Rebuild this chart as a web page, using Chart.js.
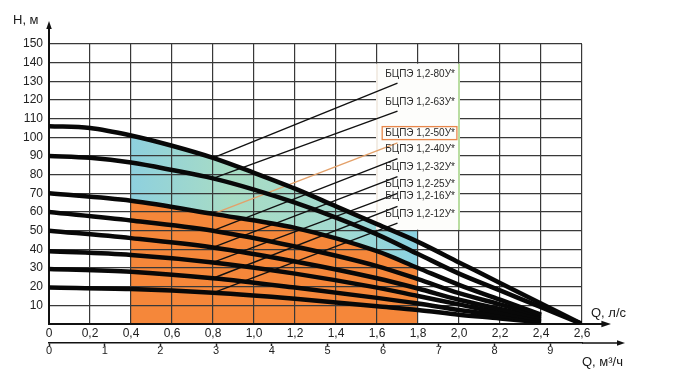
<!DOCTYPE html>
<html lang="ru">
<head>
<meta charset="utf-8">
<title>БЦПЭ 1,2 — напорные характеристики</title>
<script src="https://cdn.jsdelivr.net/npm/chart.js@4.4.1/dist/chart.umd.min.js"></script>
<style>
  html, body { margin: 0; padding: 0; background: #fff; }
  #wrap { width: 700px; height: 378px; }
</style>
</head>
<body>
<div id="wrap"><canvas id="pumpChart" width="700" height="378"></canvas></div>
<script>
// Подача, л/с
const Q_LONG  = [0, 0.2, 0.4, 0.6, 0.8, 1.0, 1.2, 1.4, 1.6, 1.8, 2.0, 2.2, 2.4, 2.6];
const Q_SHORT = [0, 0.4, 0.8, 1.2, 1.6, 1.8, 2.0, 2.2, 2.4];

// Напор, м
const H_80 = [106, 105, 101, 95.5, 89, 81, 72.5, 63, 53.5, 44, 33, 22, 11, 0];
const H_63 = [90, 89, 86.5, 82.5, 78, 72, 65, 57, 48, 37.5, 27, 18, 9, 0];
const H_50 = [70, 66, 59, 51.5, 39, 30, 21, 13, 5];
const H_40 = [60, 55.5, 50, 41.5, 31, 24, 16.5, 10.5, 4.5];
const H_32 = [50, 46, 41, 33.5, 24.5, 19, 13, 8, 3.5];
const H_25 = [39, 37, 33, 27, 19.5, 15, 10.5, 6, 2.5];
const H_16 = [29.5, 28, 24.5, 19.5, 14, 11, 7.5, 4.5, 1.5];
const H_12 = [19.5, 18.7, 16.7, 13.5, 9.5, 7.5, 5, 3, 0.8];

const PUMP_NAMES = ['БЦПЭ 1,2-80У*', 'БЦПЭ 1,2-63У*', 'БЦПЭ 1,2-50У*', 'БЦПЭ 1,2-40У*',
                    'БЦПЭ 1,2-32У*', 'БЦПЭ 1,2-25У*', 'БЦПЭ 1,2-16У*', 'БЦПЭ 1,2-12У*'];
const PUMP_Q = [Q_LONG, Q_LONG, Q_SHORT, Q_SHORT, Q_SHORT, Q_SHORT, Q_SHORT, Q_SHORT];
const PUMP_H = [H_80, H_63, H_50, H_40, H_32, H_25, H_16, H_12];
const HIGHLIGHT_NAME = 'БЦПЭ 1,2-50У*';

// выноски к подписям
const LEADER_Q = [0.8, 1.7];
const LEADER_FROM_H = [89, 78, 59, 50, 41, 33, 24.5, 16.7];
const LEADER_TO_H   = [129, 114, 97, 88.6, 79, 70, 63, 54];
const LABEL_Q = 1.98;
const LABEL_H = [134, 119, 102, 93.6, 84, 75, 68.2, 58.8];

// рабочие зоны
const ZONE_Q = [0.4, 1.8];
const CYAN_Q = [0.4, 0.6, 0.8, 1.0, 1.2, 1.4, 1.6, 1.65, 1.8];
const CYAN_H = [100, 95.5, 89, 81, 72.5, 63, 53.5, 50, 50];
const LEGEND_Q = [1.6, 2.0];
const LEGEND_H = [50, 140];

// оси
const Q_LS_TICKS  = [0, 0.2, 0.4, 0.6, 0.8, 1.0, 1.2, 1.4, 1.6, 1.8, 2.0, 2.2, 2.4, 2.6];
const Q_LS_LABELS = ['0', '0,2', '0,4', '0,6', '0,8', '1,0', '1,2', '1,4', '1,6', '1,8', '2,0', '2,2', '2,4', '2,6'];
const Q_M3_TICKS  = [0, 1, 2, 3, 4, 5, 6, 7, 8, 9];
const Q_M3_MAX = 9.57;
const H_TICKS = [0, 10, 20, 30, 40, 50, 60, 70, 80, 90, 100, 110, 120, 130, 140, 150];

const FONT = '"Liberation Sans", Arial, sans-serif';
const GRID = '#383838';

const toPts = (qs, hs) => qs.map((q, i) => ({ x: q, y: hs[i] }));

const orangePts = toPts(Q_SHORT, H_50).filter(p => p.x >= ZONE_Q[0] && p.x <= ZONE_Q[1]);

const datasets = [];

PUMP_NAMES.forEach((name, i) => {
    datasets.push({
        label: name,
        data: toPts(PUMP_Q[i], PUMP_H[i]),
        borderColor: '#080808',
        borderWidth: 4.5,
        pointRadius: 0,
        cubicInterpolationMode: 'monotone',
        fill: false,
        order: 0
    });
});

PUMP_NAMES.forEach((name, i) => {
    datasets.push({
        label: 'leader ' + name,
        data: toPts(LEADER_Q, [LEADER_FROM_H[i], LEADER_TO_H[i]]),
        borderColor: name === HIGHLIGHT_NAME ? '#e3a069' : '#111',
        borderWidth: 1.4,
        pointRadius: 0,
        fill: false,
        order: 1
    });
});

datasets.push({
    label: 'zone orange',
    data: orangePts,
    borderColor: 'rgba(0,0,0,0)',
    borderWidth: 0,
    pointRadius: 0,
    cubicInterpolationMode: 'monotone',
    backgroundColor: '#f5873a',
    fill: 'origin',
    order: 3
});

datasets.push({
    label: 'zone cyan',
    data: toPts(CYAN_Q, CYAN_H),
    borderColor: 'rgba(0,0,0,0)',
    borderWidth: 0,
    pointRadius: 0,
    cubicInterpolationMode: 'monotone',
    backgroundColor: (c) => {
        const chart = c.chart;
        if (!chart.chartArea || !chart.scales.x) return '#9bd7d4';
        const x = chart.scales.x;
        const g = chart.ctx.createLinearGradient(x.getPixelForValue(ZONE_Q[0]), 0, x.getPixelForValue(ZONE_Q[1]), 0);
        g.addColorStop(0, '#8ed0de');
        g.addColorStop(0.35, '#a8dcc4');
        g.addColorStop(0.7, '#a4dbcf');
        g.addColorStop(1, '#8bd2e2');
        return g;
    },
    fill: 'origin',
    order: 4
});

function arrow(ctx, x1, y1, x2, y2, size) {
    const a = Math.atan2(y2 - y1, x2 - x1);
    ctx.beginPath();
    ctx.moveTo(x1, y1);
    ctx.lineTo(x2 - Math.cos(a) * size, y2 - Math.sin(a) * size);
    ctx.stroke();
    ctx.beginPath();
    ctx.moveTo(x2, y2);
    ctx.lineTo(x2 - Math.cos(a) * size * 1.6 - Math.sin(a) * size * 0.55, y2 - Math.sin(a) * size * 1.6 + Math.cos(a) * size * 0.55);
    ctx.lineTo(x2 - Math.cos(a) * size * 1.6 + Math.sin(a) * size * 0.55, y2 - Math.sin(a) * size * 1.6 - Math.cos(a) * size * 0.55);
    ctx.closePath();
    ctx.fill();
}

const decorPlugin = {
    id: 'decor',
    beforeDatasetsDraw(chart) {
        // белое поле подписей поверх сетки
        const { ctx, scales: { x, y } } = chart;
        const l = x.getPixelForValue(LEGEND_Q[0]);
        const r = x.getPixelForValue(LEGEND_Q[1]);
        const t = y.getPixelForValue(LEGEND_H[1]);
        const b = y.getPixelForValue(LEGEND_H[0]);
        ctx.save();
        ctx.fillStyle = '#fdfdfb';
        ctx.fillRect(l - 1, t + 1, r - l + 2, b - t - 2);
        ctx.lineWidth = 1;
        ctx.strokeStyle = '#e8dccf';
        ctx.beginPath(); ctx.moveTo(l, t + 1); ctx.lineTo(l, b - 1); ctx.stroke();
        ctx.strokeStyle = '#96cc70';
        ctx.lineWidth = 1.3;
        ctx.beginPath(); ctx.moveTo(r, t + 1); ctx.lineTo(r, b - 1); ctx.stroke();
        ctx.restore();
    },
    afterDraw(chart) {
        const { ctx, chartArea: a, scales: { x, y, x2 } } = chart;
        ctx.save();

        // подписи насосов
        ctx.font = '10px ' + FONT;
        ctx.textAlign = 'right';
        ctx.textBaseline = 'middle';
        PUMP_NAMES.forEach((name, i) => {
            const px = x.getPixelForValue(LABEL_Q);
            const py = y.getPixelForValue(LABEL_H[i]);
            ctx.fillStyle = '#2a2a2a';
            ctx.fillText(name, px, py);
            if (name === HIGHLIGHT_NAME) {
                const w = ctx.measureText(name).width;
                ctx.strokeStyle = '#e8874a';
                ctx.lineWidth = 1.3;
                ctx.strokeRect(px - w - 3, py - 7, w + 5, 13);
            }
        });

        // стрелки осей
        ctx.fillStyle = '#111';
        ctx.strokeStyle = '#111';
        ctx.lineWidth = 2;
        arrow(ctx, a.left, a.top, a.left, 21, 5);
        arrow(ctx, a.right, a.bottom, 611, a.bottom, 6);
        ctx.lineWidth = 1.5;
        arrow(ctx, a.right, x2.top, 625, x2.top, 5);

        // названия осей
        ctx.fillStyle = '#1a1a1a';
        ctx.font = '13px ' + FONT;
        ctx.textAlign = 'left';
        ctx.fillText('Н, м', 13, 20);
        ctx.fillText('Q, л/с', 591, 313);
        ctx.fillText('Q, м³/ч', 582, 362);
        ctx.restore();
    }
};

new Chart(document.getElementById('pumpChart'), {
    type: 'line',
    data: { datasets },
    options: {
        responsive: false,
        animation: false,
        events: [],
        layout: { padding: { top: 44, right: 118, left: 0, bottom: 0 } },
        plugins: {
            legend: { display: false },
            tooltip: { enabled: false },
            filler: { drawTime: 'beforeDraw' }
        },
        scales: {
            x: {
                type: 'linear',
                position: 'bottom',
                min: 0,
                max: 2.6,
                afterBuildTicks: s => { s.ticks = Q_LS_TICKS.map(v => ({ value: v })); },
                afterFit: s => { s.height = 19; },
                grid: { color: GRID, lineWidth: 1.2, drawTicks: false },
                border: { color: '#111', width: 2 },
                ticks: {
                    autoSkip: false,
                    maxRotation: 0,
                    padding: 2,
                    color: '#222',
                    font: { size: 12, family: FONT },
                    callback: (v, i) => Q_LS_LABELS[i]
                }
            },
            x2: {
                type: 'linear',
                position: 'bottom',
                min: 0,
                max: Q_M3_MAX,
                afterBuildTicks: s => { s.ticks = Q_M3_TICKS.map(v => ({ value: v })); },
                afterFit: s => { s.height = 35; },
                grid: { drawOnChartArea: false, drawTicks: true, tickLength: 3, tickColor: '#222', tickWidth: 1.5 },
                border: { color: '#111', width: 1.5 },
                ticks: {
                    autoSkip: false,
                    maxRotation: 0,
                    padding: -2,
                    color: '#222',
                    font: { size: 11, family: FONT },
                    callback: v => String(v)
                }
            },
            y: {
                type: 'linear',
                min: 0,
                max: 150,
                afterBuildTicks: s => { s.ticks = H_TICKS.map(v => ({ value: v })); },
                afterFit: s => { s.width = 49; },
                grid: { color: GRID, lineWidth: 1.2, drawTicks: false },
                border: { color: '#111', width: 2 },
                ticks: {
                    autoSkip: false,
                    padding: 6,
                    color: '#222',
                    font: { size: 12, family: FONT },
                    callback: v => (v === 0 ? '' : String(v))
                }
            }
        }
    },
    plugins: [decorPlugin]
});
</script>
</body>
</html>
